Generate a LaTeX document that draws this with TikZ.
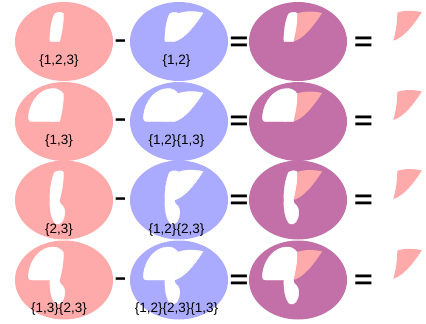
\documentclass[tikz,border=0pt]{standalone}
\usepackage{fontspec}
\setmainfont{Liberation Sans}
\definecolor{pinkc}{HTML}{FFAAAA}
\definecolor{bluec}{HTML}{AAAAFF}
\definecolor{purpc}{HTML}{C470A8}
% pieces, relative to the centre of an ellipse (x right, y down, in px)
\newcommand\shA{(-14,0) -- (-4.5,0) .. controls (-2,-9) and (-0.5,-18) .. (-0.5,-28) .. controls (-3,-30) and (-7,-29.5) .. (-9.5,-27.5) .. controls (-13,-20) and (-14.5,-8) .. cycle}
\newcommand\shL{(-4.5,0) .. controls (-2,-9) and (-0.5,-18) .. (-0.5,-28) .. controls (6,-30.5) and (16,-30.5) .. (24,-28.5) .. controls (16,-16) and (6,-3) .. cycle}
\newcommand\shC{(-12,-2) -- (-12,0) -- (-32,0) .. controls (-35,0) and (-36,-2) .. (-35.5,-6) .. controls (-34,-20) and (-24,-33) .. (-11,-33) .. controls (-7,-33) and (-4,-31.5) .. (-2,-29.5) -- (-5,-5) -- cycle}
\newcommand\shD{(-12,-3) -- (-14,0) .. controls (-14.5,8) and (-13,20) .. (-8,24) .. controls (-3,25.5) and (0.5,20) .. (0.8,12) .. controls (1,8) and (-2,5) .. (-4,3) -- (-4.5,0) -- (-5,-3) -- cycle}
\newcommand\cellE[4]{\begin{scope}[shift={(#1,#2)}]\fill[#3] (0,0) ellipse [x radius=49, y radius=39.5]; #4\end{scope}}
\newcommand\pA{\fill[holefill] \shA;}
\newcommand\pL{\fill[holefill] \shL;}
\newcommand\pC{\fill[holefill] \shC;}
\newcommand\pD{\fill[holefill] \shD;}
\newcommand\pLpink{\fill[pinkc] \shL;}
\begin{document}
\begin{tikzpicture}[x=1pt,y=-1pt,
  holefill/.style={fill=white,draw=white,line width=0.4pt},
  lab/.style={inner sep=0pt,font=\fontsize{13.5}{15}\selectfont},
  opminus/.style={inner sep=0pt,font=\bfseries\fontsize{20}{20}\selectfont},
  opeq/.style={inner sep=0pt,font=\bfseries\fontsize{20}{20}\selectfont}]
\useasboundingbox[fill=white] (0,0) rectangle (426,324);
% row 1
\cellE{64}{41.5}{pinkc}{\pA}
\cellE{179}{41.5}{bluec}{\pA\pL}
\cellE{298}{41.5}{purpc}{\pA\pLpink}
\begin{scope}[shift={(397.8,40.7)}]\pLpink\end{scope}
% row 2
\cellE{64}{121.5}{pinkc}{\pA\pC}
\cellE{179}{121.5}{bluec}{\pA\pC\pL}
\cellE{298}{121.5}{purpc}{\pA\pC\pLpink}
\begin{scope}[shift={(397.8,120)}]\pLpink\end{scope}
% row 3
\cellE{64}{200}{pinkc}{\pA\pD}
\cellE{179}{200}{bluec}{\pA\pD\pL}
\cellE{298}{200}{purpc}{\pA\pD\pLpink}
\begin{scope}[shift={(397.8,199)}]\pLpink\end{scope}
% row 4
\cellE{64}{280}{pinkc}{\pA\pC\pD}
\cellE{179}{280}{bluec}{\pA\pC\pD\pL}
\cellE{298}{280}{purpc}{\pA\pC\pD\pLpink}
\begin{scope}[shift={(397.8,278.7)}]\pLpink\end{scope}
% labels
\node[lab] (t11) at (59,61.5) {\{1,2,3\}};
\node[lab] (t12) at (176.5,61.5) {\{1,2\}};
\node[lab] (t21) at (59,141.5) {\{1,3\}};
\node[lab] (t22) at (176.5,141.5) {\{1,2\}\{1,3\}};
\node[lab] (t31) at (59,230) {\{2,3\}};
\node[lab] (t32) at (176.5,230) {\{1,2\}\{2,3\}};
\node[lab] (t41) at (59,309) {\{1,3\}\{2,3\}};
\node[lab] (t42) at (176.5,309) {\{1,2\}\{2,3\}\{1,3\}};
% operators
\foreach \r/\yy in {1/41.7,2/120.5,3/199.5,4/279.5}{
  \node[opminus] (m\r) at (120.5,\yy+1.9) {\scalebox{1.84}[1.05]{-}};
  \node[opeq] (e\r) at (239,\yy+1.8) {\scalebox{1.6}[1.3]{=}};
  \node[opeq] (f\r) at (363.5,\yy+1.8) {\scalebox{1.6}[1.3]{=}};
}
\end{tikzpicture}
\end{document}
